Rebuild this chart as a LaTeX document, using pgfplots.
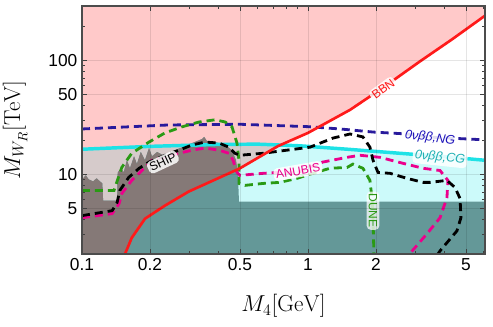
\documentclass[border=0pt]{standalone}
\usepackage[no-math]{fontspec}
\setmainfont{Liberation Sans}
\usepackage{pgfplots}
\pgfplotsset{compat=1.18}
\definecolor{bbnPink}{HTML}{FFC9C9}
\definecolor{cgFill}{HTML}{CCFAFA}
\definecolor{mixGrey}{HTML}{D6CBCB}
\definecolor{tealFill}{HTML}{649898}
\definecolor{brownFill}{HTML}{857977}
\definecolor{ngBlue}{HTML}{281A9C}
\definecolor{cgLine}{HTML}{1EE2E6}
\definecolor{cgText}{HTML}{20B0B4}
\definecolor{duneGreen}{HTML}{2A9A14}
\definecolor{bbnRed}{HTML}{FF1A1A}
\tikzset{
  lbl/.style={fill=white, fill opacity=0.85, text opacity=1, rounded corners=3pt,
    inner sep=1.6pt, font=\fontsize{9}{10}\selectfont},
  dsh/.style={line width=2.1pt, dash pattern=on 6pt off 3.75pt},
}

\begin{document}
\begin{tikzpicture}
\begin{axis}[
  xmode=log, ymode=log,
  scale only axis, width=302.25pt, height=186pt,
  xmin=0.1, xmax=6.07, ymin=2, ymax=300,
  xtick={0.1,0.2,0.5,1,2,5}, xticklabels={0.1,0.2,0.5,1,2,5},
  minor xtick={0.3,0.4,0.6,0.7,0.8,0.9,3,4,6},
  ytick={5,10,50,100}, yticklabels={5,10,50,100},
  minor ytick={2,3,4,6,7,8,9,20,30,40,60,70,80,90,200,300},
  grid=major, grid style={black, opacity=0.1, line width=0.5pt},
  major tick length=3.75pt, minor tick length=2.25pt,
  tick style={black!75, line width=0.6pt},
  axis line style={black!70, line width=0.8pt},
  tick label style={font=\fontsize{13}{15}\selectfont},
  label style={font=\fontsize{17.28}{20}\selectfont},
  xlabel={$M_4[\mathrm{GeV}]$},
  ylabel={$M_{W_R}[\mathrm{TeV}]$},
  xlabel style={at={(axis description cs:0.5,-0.21)},anchor=center},
  ylabel style={at={(axis description cs:-0.166,0.5)},anchor=center},
  axis on top,
]
\coordinate (sw) at (rel axis cs:0,0);
\coordinate (ne) at (rel axis cs:1,1);

% BBN excluded (above red line)
\addplot[fill=bbnPink, draw=none] coordinates {
  (0.09,1.8) (0.152,1.8) (0.155,2.0) (0.166,2.77) (0.190,4.08) (0.233,5.32)
  (0.297,7.07) (0.408,9.40) (0.500,11.3) (0.737,17.7) (1.0,23.1) (1.535,36.8)
  (2.15,57.7) (3.13,98) (4.34,153) (6.3,260) (6.3,320) (0.09,320)} --cycle;

% 0vbb CG excluded (below cyan line)
\addplot[fill=cgFill, draw=none] coordinates {
  (0.09,1.8) (0.09,16.6) (0.1,16.6) (0.2,17.6) (0.4,18.3) (0.6,18.4) (0.92,17.8)
  (1.5,16.6) (2.55,15.3) (4.0,14.3) (6.3,13.2) (6.3,1.8)} --cycle;

% overlap of both
\addplot[fill=mixGrey, draw=none] coordinates {
  (0.09,1.8) (0.09,16.6) (0.1,16.6) (0.2,17.6) (0.4,18.3) (0.6,18.4) (0.75,18.0)
  (0.737,17.7) (0.500,11.3) (0.408,9.40) (0.297,7.07) (0.233,5.32) (0.190,4.08)
  (0.166,2.77) (0.155,2.0) (0.152,1.8)} --cycle;

% existing bounds
\addplot[fill=tealFill, draw=none] coordinates {
  (0.09,1.8) (0.09,9.03) (0.1,9.03) (0.104,9.8) (0.107,9.03) (0.112,8.67) (0.116,9.22)
  (0.123,8.32) (0.124,5.89) (0.143,5.89) (0.144,10.4) (0.149,11.3) (0.153,10.4)
  (0.158,13.3) (0.163,11.3) (0.170,14.4) (0.175,12.3) (0.182,15.7) (0.190,13.3)
  (0.198,17.0) (0.204,14.4) (0.215,15.7) (0.233,14.4) (0.258,16.3) (0.286,17.7)
  (0.307,18.8) (0.340,20.4) (0.347,21.3) (0.357,19.6) (0.388,19.2) (0.430,18.1)
  (0.461,16.3) (0.480,13.3) (0.490,9.8) (0.495,5.77) (6.3,5.77) (6.3,1.8)} --cycle;

\addplot[fill=brownFill, draw=none] coordinates {
  (0.09,1.8) (0.09,9.03) (0.1,9.03) (0.104,9.8) (0.107,9.03) (0.112,8.67) (0.116,9.22)
  (0.123,8.32) (0.124,5.89) (0.143,5.89) (0.144,10.4) (0.149,11.3) (0.153,10.4)
  (0.158,13.3) (0.163,11.3) (0.170,14.4) (0.175,12.3) (0.182,15.7) (0.190,13.3)
  (0.198,17.0) (0.204,14.4) (0.215,15.7) (0.233,14.4) (0.258,16.3) (0.286,17.7)
  (0.307,18.8) (0.340,20.4) (0.347,21.3) (0.357,19.6) (0.388,19.2) (0.430,18.1)
  (0.461,16.3) (0.480,13.3) (0.487,11.0) (0.408,9.40) (0.297,7.07) (0.233,5.32)
  (0.190,4.08) (0.166,2.77) (0.155,2.0) (0.152,1.8)} --cycle;

% 0vbb CG line
\addplot[cgLine, line width=2.6pt] coordinates {
  (0.1,16.6) (0.2,17.6) (0.4,18.3) (0.6,18.4) (0.92,17.8) (1.5,16.6) (2.55,15.3)
  (4.0,14.3) (6.3,13.2)};

% 0vbb NG
\addplot[ngBlue, dsh] coordinates {
  (0.1,25.0) (0.24,27.1) (0.5,27.5) (1.0,26.2) (1.39,25.0) (1.94,23.5) (2.74,22.6)
  (3.47,21.2) (6.3,20.0)};

% DUNE
\addplot[duneGreen, dsh] coordinates {
  (0.1,7.22) (0.1386,7.22) (0.150,11.5) (0.166,15.3) (0.198,19.2) (0.233,23.1)
  (0.277,26.1) (0.330,28.8) (0.388,30.1) (0.430,28.8) (0.461,26.1) (0.485,18.8)
  (0.495,13.3) (0.495,8.32) (0.526,8.0) (0.632,8.32) (0.751,8.50) (0.894,9.22)
  (1.05,10.2) (1.25,11.3) (1.49,11.5) (1.58,12.3) (1.75,11.3) (1.88,8.85)
  (1.92,6.13) (1.94,4.16) (1.96,1.8)};

% ANUBIS
\addplot[magenta, dsh] coordinates {
  (0.1,4.16) (0.136,4.52) (0.146,5.54) (0.150,6.79) (0.166,8.85) (0.184,10.8)
  (0.204,13.3) (0.269,15.3) (0.307,16.3) (0.350,17.0) (0.404,16.3) (0.447,15.3)
  (0.466,13.3) (0.485,10.4) (0.5,9.80) (0.632,10.2) (0.751,10.4) (0.903,10.4)
  (1.16,12.8) (1.49,14.1) (1.70,14.7) (2.08,14.1) (2.63,12.5) (3.23,11.3)
  (3.84,10.8) (4.16,8.85) (4.12,6.26) (3.84,4.16) (3.36,3.01) (2.74,1.88)};

% SHiP
\addplot[black, dsh] coordinates {
  (0.1,4.34) (0.136,4.80) (0.143,5.65) (0.147,7.22) (0.161,9.40) (0.179,11.3)
  (0.198,12.8) (0.233,14.7) (0.269,16.3) (0.307,18.1) (0.350,19.2) (0.404,18.8)
  (0.447,17.3) (0.475,15.3) (0.5,14.7) (0.632,15.3) (0.808,16.3) (1.02,17.3)
  (1.29,20.8) (1.535,22.6) (1.75,21.3) (1.88,17.3) (1.94,13.3) (2.04,10.4)
  (2.31,10.2) (2.74,9.22) (3.23,8.50) (3.47,8.50) (4.12,8.85) (4.47,7.67)
  (4.71,6.13) (4.75,4.16) (4.56,3.19) (3.84,2.13) (3.68,1.88)};

% BBN
\addplot[bbnRed, line width=2.0pt] coordinates {
  (0.152,1.8) (0.155,2.0) (0.166,2.77) (0.190,4.08) (0.233,5.32) (0.297,7.07)
  (0.408,9.40) (0.500,11.3) (0.737,17.7) (1.0,23.1) (1.535,36.8) (2.15,57.7)
  (3.13,98) (4.34,153) (6.3,260)};

\node[lbl, text=black, rotate=25] at (axis cs:0.228,12.8) {SHIP};
\node[lbl, text=magenta, rotate=10] at (axis cs:0.903,10.7) {ANUBIS};
\node[lbl, text=bbnRed, rotate=36] at (axis cs:2.15,56) {BBN};
\node[lbl, text=ngBlue!70!blue, rotate=-7, font=\fontsize{9.5}{10}\selectfont\itshape] at (axis cs:3.47,20.8) {0νββ,NG};
\node[lbl, text=cgText, rotate=-6, font=\fontsize{9.5}{10}\selectfont\itshape] at (axis cs:3.84,14.0) {0νββ,CG};
\node[lbl, text=duneGreen, rotate=-90, fill opacity=0.75] at (axis cs:1.94,4.8) {DUNE};
\end{axis}
\pgfresetboundingbox
\path (sw) ++(-61.5pt,-54.75pt) coordinate (bl);
\path (ne) ++(6pt,4.5pt) coordinate (tr);
\path (bl) rectangle (tr);
\end{tikzpicture}
\end{document}
